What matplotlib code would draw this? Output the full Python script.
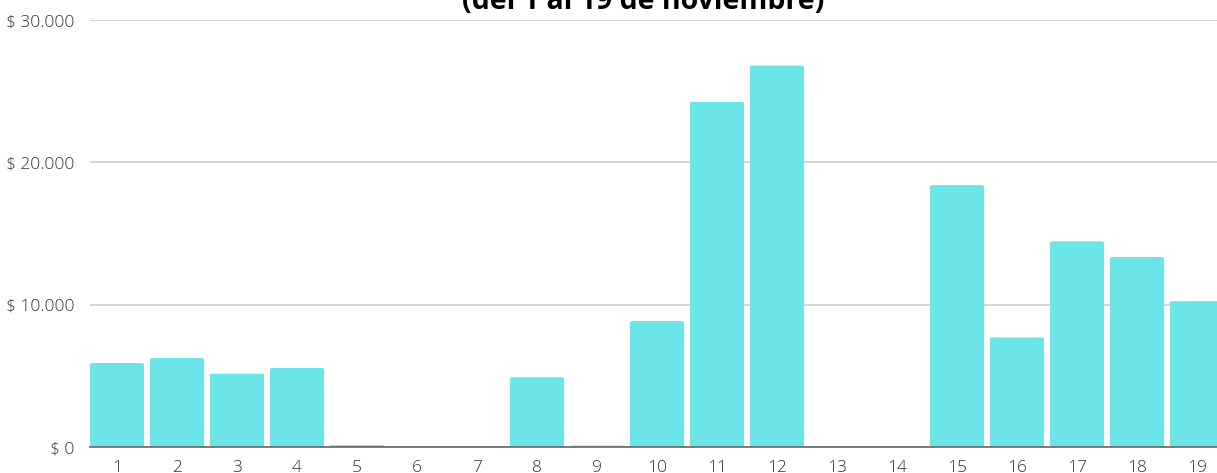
import matplotlib.pyplot as plt
from matplotlib.patches import FancyBboxPatch

dias = list(range(1, 20))
ventas = [5900, 6250, 5150, 5550, 120, 0, 0, 4900, 100, 8850,
          24250, 26800, 0, 0, 18400, 7700, 14450, 13350, 10250]
yticks = [0, 10000, 20000, 30000]
ylabels = ['$ 0', '$ 10.000', '$ 20.000', '$ 30.000']
subtitulo = '(del 1 al 19 de noviembre)'

plt.rcParams['font.family'] = ['Open Sans', 'DejaVu Sans']

fig = plt.figure(figsize=(12.17, 4.73), dpi=100)
# the chart runs a bit past the right edge of the picture
ax = fig.add_axes([90 / 1217, 26 / 473, 1140 / 1217, 427 / 473])

color = '#6ce5e8'
ancho = 0.9
for d, v in zip(dias, ventas):
    if v <= 0:
        continue
    r = min(0.06, v / 100000)
    ax.add_patch(FancyBboxPatch((d - ancho / 2, 0), ancho, v,
                                boxstyle=f'round,pad=0,rounding_size={r}',
                                mutation_aspect=1400,
                                facecolor=color, edgecolor='none', zorder=3))
    # square off the bottom corners
    ax.bar(d, min(v, 500), width=ancho, color=color, zorder=3)

ax.set_xlim(0.55, 19.55)
ax.set_ylim(0, 30000)
ax.set_xticks(dias)
ax.set_xticklabels([str(d) for d in dias])
ax.set_yticks(yticks)
ax.set_yticklabels(ylabels)
ax.tick_params(length=0, labelsize=12.5, colors='#333333')
for lab in ax.get_xticklabels() + ax.get_yticklabels():
    lab.set_fontweight('light')
ax.tick_params(axis='x', pad=9)
ax.tick_params(axis='y', pad=11)

ax.yaxis.grid(True, color='#cccccc', linewidth=1.2, zorder=0)
for s in ['top', 'right', 'left']:
    ax.spines[s].set_visible(False)
ax.spines['bottom'].set_color('#666666')
ax.spines['bottom'].set_linewidth(1.2)
ax.spines['bottom'].set_zorder(4)

fig.text(643 / 1217, 1 - 9 / 473, subtitulo, ha='center', va='baseline',
         fontsize=20.5, fontweight='bold', color='#000000')

fig.savefig('out.png', dpi=100)
